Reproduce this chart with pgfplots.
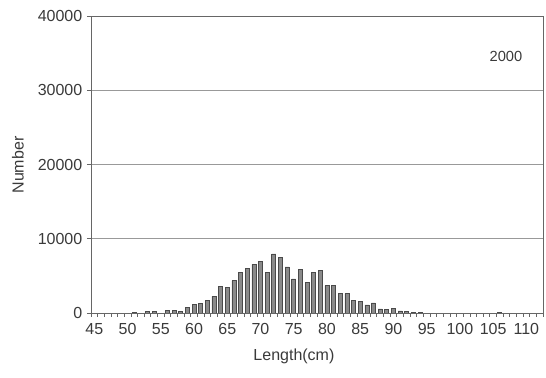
\documentclass[border=0pt]{standalone}
\usepackage{fontspec}
\setmainfont{Liberation Sans}
\usepackage{pgfplots}
\pgfplotsset{compat=1.18}
\definecolor{txt}{HTML}{3A3A3A}
\definecolor{barfill}{HTML}{8A8A8A}
\definecolor{baredge}{HTML}{4A4A4A}
\begin{document}
\begin{tikzpicture}
\path[use as bounding box] (-68.25pt,-48.75pt) rectangle (341.25pt,234.75pt);
\begin{axis}[
  at={(0,0)}, anchor=south west,
  scale only axis, width=339pt, height=222.75pt,
  xmin=44.5, xmax=112.5, ymin=0, ymax=40000,
  ybar, bar width=3pt,
  axis line style={draw=black!60, line width=0.6pt},
  tick align=outside,
  xtick={44.5,45.5,...,112.5}, xticklabels={},
  extra x ticks={45,50,...,110},
  extra x tick style={major tick length=0pt},
  extra x tick labels={45,50,55,60,65,70,75,80,85,90,95,100,105,110},
  ytick={0,10000,20000,30000,40000},
  major tick length=3pt,
  tick style={draw=black!60, line width=0.5pt},
  xtick pos=bottom, ytick pos=left,
  ymajorgrids, grid style={draw=black!40, line width=0.5pt},
  scaled y ticks=false,
  /pgf/number format/assume math mode=true,
  /pgf/number format/1000 sep={},
  tick label style={font=\fontsize{12}{14}\selectfont, text=txt},
  x tick label style={yshift=-4pt},
  ylabel={Number}, xlabel={Length(cm)},
  label style={font=\fontsize{12}{14}\selectfont, text=txt},
  xlabel style={at={(axis description cs:0.449,0)}, anchor=center, yshift=-32.25pt},
  ylabel style={at={(axis description cs:0,0.498)}, anchor=center, yshift=54.75pt},
]
\addplot[fill=barfill, draw=baredge, line width=0.5pt] coordinates {
(51,120) (53,250) (54,200) (56,300) (57,300) (58,250) (59,720)
(60,1170) (61,1260) (62,1700) (63,2240) (64,3550) (65,3500) (66,4350)
(67,5480) (68,5970) (69,6550) (70,7000) (71,5480) (72,7950) (73,7450)
(74,6200) (75,4580) (76,5840) (77,4170) (78,5430) (79,5750) (80,3680)
(81,3680) (82,2690) (83,2600) (84,1700) (85,1530) (86,1080) (87,1350)
(88,540) (89,450) (90,580) (91,270) (92,180) (93,130) (94,50) (106,100)
};
\node[font=\fontsize{11}{13}\selectfont, text=txt] at (axis description cs:0.918,0.865) {2000};
\end{axis}
\end{tikzpicture}
\end{document}
